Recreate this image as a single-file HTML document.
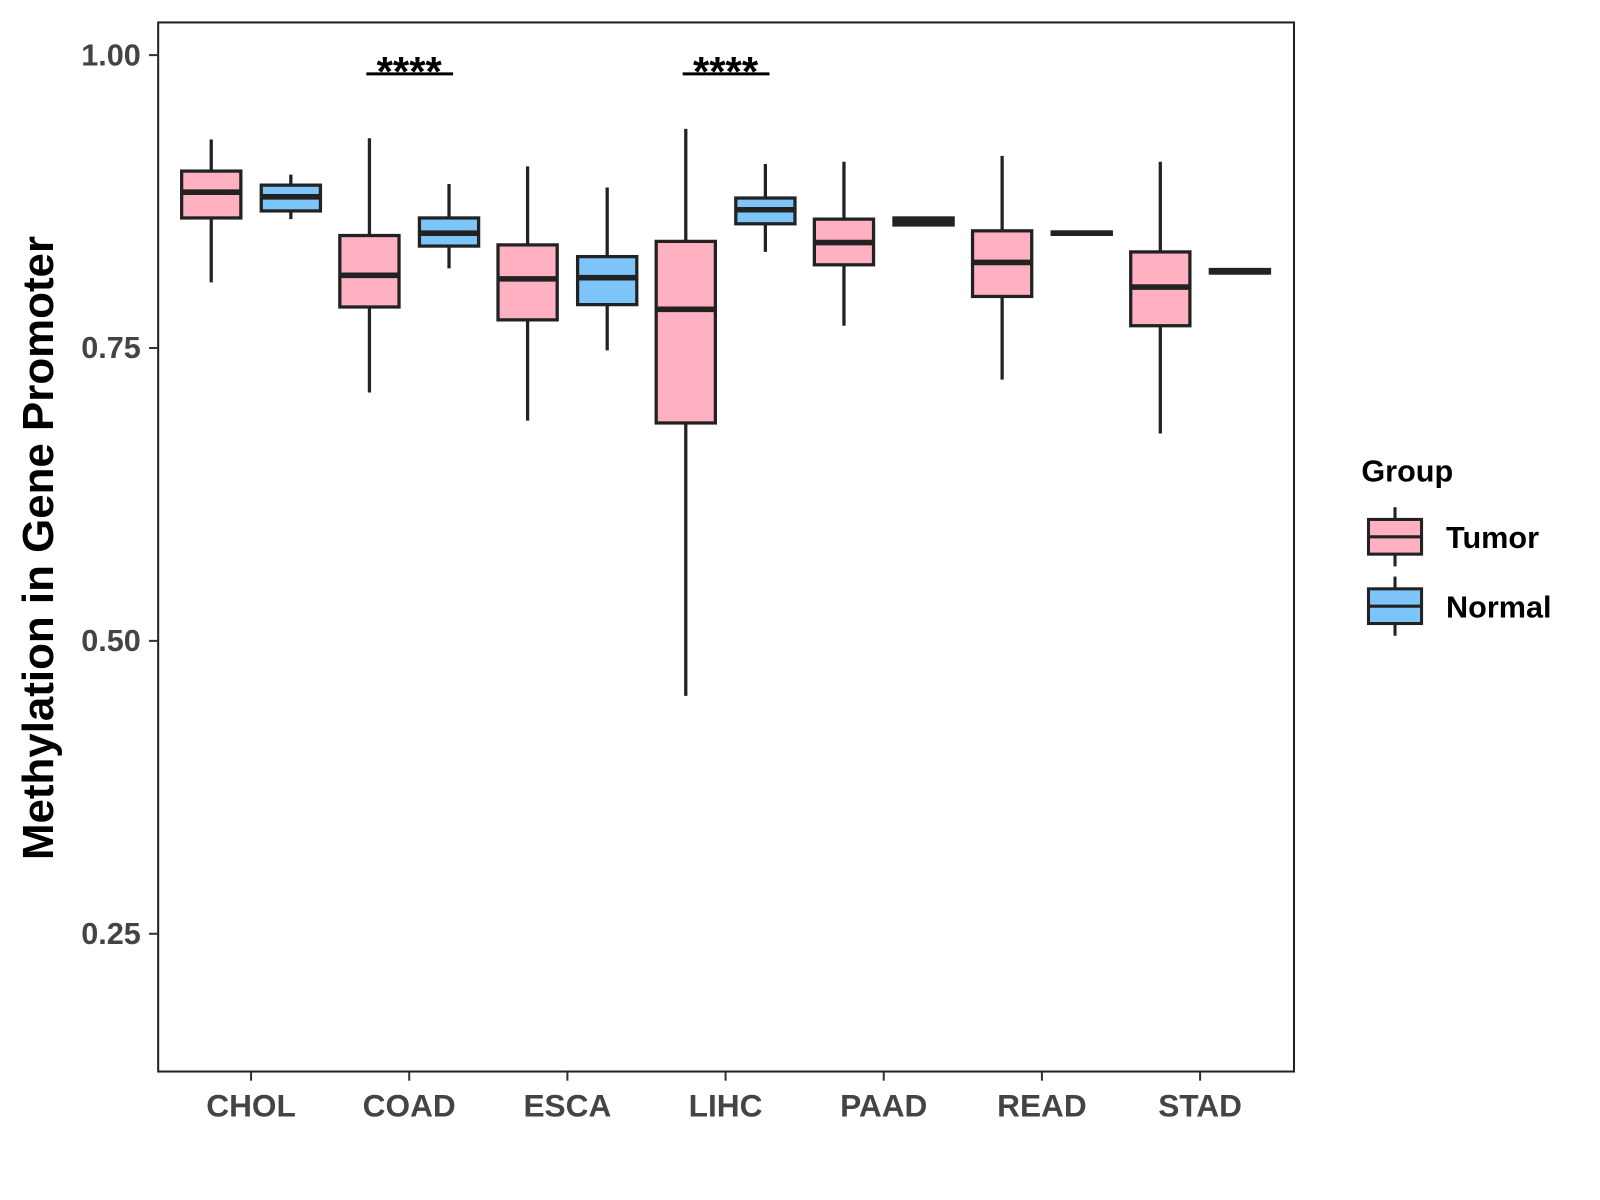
<!DOCTYPE html>
<html><head><meta charset="utf-8"><style>
html,body{margin:0;padding:0;background:#fff;}
svg{display:block;font-family:"Liberation Sans",Arial,sans-serif;}
</style></head><body>
<svg id="chart" width="1600" height="1200" viewBox="0 0 1600 1200" xmlns="http://www.w3.org/2000/svg">
<rect x="0" y="0" width="1600" height="1200" fill="#fff"/>
<g transform="scale(1.0205)">
<g id="plot"></g>
<text transform="translate(52,537) rotate(-90)" text-anchor="middle" font-size="43" font-weight="bold" fill="#000">Methylation in Gene Promoter</text>
<g>
<text x="1334" y="472" font-size="30" font-weight="bold" fill="#000">Group</text>
<g>
<line x1="1367" y1="497" x2="1367" y2="555" stroke="#222" stroke-width="3"/>
<rect x="1341" y="509" width="52" height="34" fill="#FFB0C1" stroke="#222" stroke-width="3"/>
<line x1="1341" y1="526" x2="1393" y2="526" stroke="#222" stroke-width="3"/>
<text x="1417" y="537" font-size="30" font-weight="bold" fill="#000">Tumor</text>
</g>
<g>
<line x1="1367" y1="565" x2="1367" y2="623" stroke="#222" stroke-width="3"/>
<rect x="1341" y="577" width="52" height="34" fill="#7DC4F9" stroke="#222" stroke-width="3"/>
<line x1="1341" y1="594" x2="1393" y2="594" stroke="#222" stroke-width="3"/>
<text x="1417" y="605" font-size="30" font-weight="bold" fill="#000">Normal</text>
</g>
</g>
</g>
</svg>
<script>
const categories = ["CHOL","COAD","ESCA","LIHC","PAAD","READ","STAD"];
// [min, q1, median, q3, max]
const tumorStats = [
 [0.806,0.861,0.883,0.901,0.928],
 [0.712,0.785,0.812,0.846,0.929],
 [0.688,0.774,0.809,0.838,0.905],
 [0.453,0.686,0.783,0.841,0.937],
 [0.769,0.821,0.840,0.860,0.909],
 [0.723,0.794,0.823,0.850,0.914],
 [0.677,0.769,0.802,0.832,0.909]
];
const normalStats = [
 [0.860,0.867,0.879,0.889,0.898],
 [0.818,0.837,0.848,0.861,0.890],
 [0.748,0.787,0.810,0.828,0.887],
 [0.832,0.856,0.868,0.878,0.907],
 [0.855,0.855,0.858,0.861,0.861],
 [0.847,0.847,0.848,0.849,0.849],
 [0.814,0.814,0.815,0.817,0.817]
];
const yTicks = [0.25,0.50,0.75,1.00];
const yTickLabels = ["0.25","0.50","0.75","1.00"];
const sigCategories = ["COAD","LIHC"];
const sigLabels = ["****","****"];
const sigValue = 0.984;

const NS="http://www.w3.org/2000/svg";
const P={l:155,r:1268,t:22,b:1050};
function yScale(v){return 54+(1-v)*1148;}
function xScale(i){return 246+i*155;}
const g=document.getElementById('plot');
function mk(tag,attrs,parent){const e=document.createElementNS(NS,tag);for(const k in attrs)e.setAttribute(k,attrs[k]);(parent||g).appendChild(e);return e;}

const frame=mk('rect',{x:P.l,y:P.t,width:P.r-P.l,height:P.b-P.t,fill:'none',stroke:'#222','stroke-width':2});



yTicks.forEach((v,i)=>{
 const y=yScale(v);
 const t=mk('line',{x1:P.l-9,x2:P.l,y1:y,y2:y,stroke:'#333','stroke-width':2});
 
 
 const l=mk('text',{x:P.l-17,y:y+10,'text-anchor':'end','font-size':30,'font-weight':'bold',fill:'#444'});
 l.textContent=yTickLabels[i];
 
 
});
categories.forEach((c,i)=>{
 const x=xScale(i);
 const t=mk('line',{x1:x,x2:x,y1:P.b,y2:P.b+9,stroke:'#333','stroke-width':2});
 
 
 const l=mk('text',{x:x,y:1094,'text-anchor':'middle','font-size':31,'font-weight':'bold',fill:'#444'});
 l.textContent=c;
 
 
});
function drawBox(s,cx,fill,name){
 const grp=mk('g',{});
 
 
 const w=58;
 mk('line',{x1:cx,x2:cx,y1:yScale(s[4]),y2:yScale(s[0]),stroke:'#222','stroke-width':3.2},grp);
 mk('rect',{x:cx-w/2,y:yScale(s[3]),width:w,height:Math.max(0,yScale(s[1])-yScale(s[3])),fill:fill,stroke:'#222','stroke-width':3.2},grp);
 mk('line',{x1:cx-w/2,x2:cx+w/2,y1:yScale(s[2]),y2:yScale(s[2]),stroke:'#222','stroke-width':5.5},grp);
}
categories.forEach((c,i)=>{
 drawBox(tumorStats[i],xScale(i)-39,'#FFB0C1','box-tumor-'+c.toLowerCase());
 drawBox(normalStats[i],xScale(i)+39,'#7DC4F9','box-normal-'+c.toLowerCase());
});
sigCategories.forEach((c,k)=>{
 const i=categories.indexOf(c);const x=xScale(i);const y=yScale(sigValue);
 const ln=mk('line',{x1:x-42,x2:x+43,y1:y,y2:y,stroke:'#000','stroke-width':3});
 
 
 const t=mk('text',{x:x,y:y+12,'text-anchor':'middle','font-size':41,'font-weight':'bold',fill:'#000'});
 t.textContent=sigLabels[k];
 
 
});
</script>
</body></html>
